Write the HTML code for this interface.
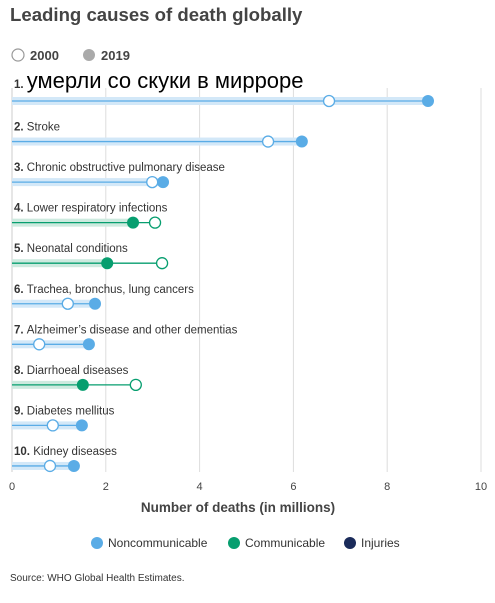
<!DOCTYPE html>
<html><head><meta charset="utf-8"><style>
body{margin:0;background:#fff;font-family:"Liberation Sans","Noto Sans CJK SC",sans-serif;color:#333}
svg text{font-family:"Liberation Sans","DejaVu Sans",sans-serif}
</style></head><body>
<svg width="495" height="598">
<text x="10" y="21" font-size="18.6" font-weight="bold" fill="#444">Leading causes of death globally</text>
<g>
<circle cx="18" cy="55" r="6" fill="#fff" stroke="#999" stroke-width="1.2"/>
<text x="30" y="60" font-size="13" font-weight="bold" fill="#444">2000</text>
<circle cx="89" cy="55" r="6" fill="#aaa"/>
<text x="101" y="60" font-size="13" font-weight="bold" fill="#444">2019</text>
</g>
<g id="grid"></g>
<g id="rows"></g>
<g id="xaxis"></g>
<text x="238" y="512" font-size="13.5" font-weight="bold" fill="#444" text-anchor="middle">Number of deaths (in millions)</text>
<g font-size="12" fill="#333">
<circle cx="97" cy="543" r="6" fill="#5aace6"/><text x="108" y="547">Noncommunicable</text>
<circle cx="234" cy="543" r="6" fill="#079e6f"/><text x="245" y="547">Communicable</text>
<circle cx="350" cy="543" r="6" fill="#1a2b5a"/><text x="361" y="547">Injuries</text>
</g>
<text x="10" y="581" font-size="10" fill="#333">Source: WHO Global Health Estimates.</text>
</svg>
<script>
const labels=["умерли со скуки в мирроре","Stroke","Chronic obstructive pulmonary disease","Lower respiratory infections","Neonatal conditions","Trachea, bronchus, lung cancers","Alzheimer’s disease and other dementias","Diarrhoeal diseases","Diabetes mellitus","Kidney diseases"];
const v2000=[6.76,5.46,2.99,3.05,3.2,1.19,0.58,2.64,0.87,0.81];
const v2019=[8.87,6.18,3.22,2.58,2.03,1.77,1.64,1.51,1.49,1.32];
const types=["nc","nc","nc","c","c","nc","nc","c","nc","nc"];
const ticks=[0,2,4,6,8,10];
const NS="http://www.w3.org/2000/svg";
const x=v=>12+v*46.9;
const rowY=i=>101+i*40.55;
function mk(tag,attrs,parent){const e=document.createElementNS(NS,tag);for(const k in attrs)e.setAttribute(k,attrs[k]);parent.appendChild(e);return e;}
const grid=document.getElementById('grid'),rows=document.getElementById('rows'),xa=document.getElementById('xaxis');
ticks.forEach(t=>{
 const l=mk('line',{x1:x(t),x2:x(t),y1:88,y2:472,stroke:t===0?'#ccc':'#ddd','stroke-width':1},grid);
 
 
 const tx=mk('text',{x:x(t),y:490,'font-size':11,fill:'#444','text-anchor':'middle'},xa);
 tx.textContent=t;
 
 
});
const col={nc:{main:'#5aace6',band:'#d3e8f8'},c:{main:'#079e6f',band:'#cdeadf'}};
labels.forEach((lab,i)=>{
 const y=rowY(i),c=col[types[i]];
 const g=mk('g',{},rows);
 
 
 const t=mk('text',{x:14,y:i===0?y-13:y-11,'font-size':i===0?22:11.5,fill:i===0?'#000':'#333'},g);
 const b=mk('tspan',{'font-weight':'bold','font-size':11.5,fill:'#333'},t);b.textContent=(i+1)+'. ';
 const s=mk('tspan',{},t);s.textContent=lab;
 if(i===0)t.setAttribute('font-family','"DejaVu Sans",sans-serif');
 mk('rect',{x:x(0),y:y-4,width:x(v2019[i])-x(0),height:8,fill:c.band},g);
 mk('line',{x1:x(0),x2:x(Math.max(v2000[i],v2019[i])),y1:y,y2:y,stroke:c.main,'stroke-width':1.3},g);
 const p0=mk('circle',{cx:x(v2000[i]),cy:y,r:5.5,fill:'#fff',stroke:c.main,'stroke-width':1.3},g);
 
 
 const p1=mk('circle',{cx:x(v2019[i]),cy:y,r:6,fill:c.main},g);
 
 
});
</script>
</body></html>
